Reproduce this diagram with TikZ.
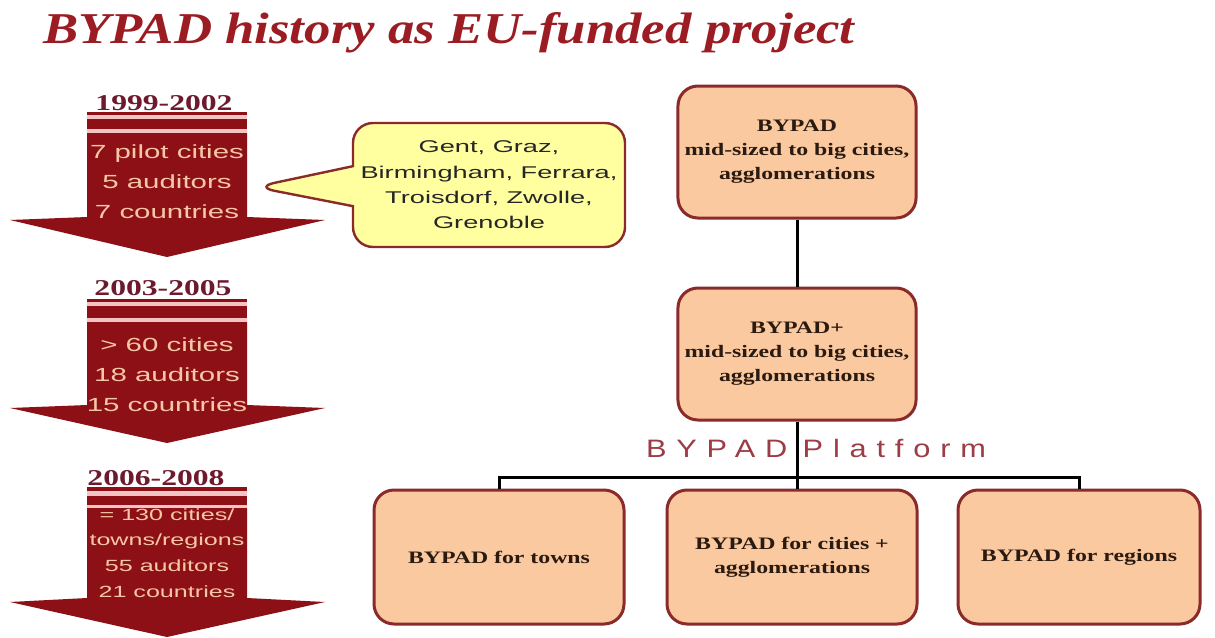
\documentclass[tikz,border=0pt]{standalone}
\usepackage{fontspec}
\setmainfont{Liberation Serif}
\newfontfamily\titlefont{Liberation Serif}[FakeStretch=1.2]
\newfontfamily\yearfont{Liberation Serif}[FakeStretch=1.4]
\newfontfamily\boxfont{Liberation Serif}[FakeStretch=1.36]
\newfontfamily\arrowfont{Liberation Sans}[FakeStretch=1.55]
\newfontfamily\calloutfont{Liberation Sans}[FakeStretch=1.6]
\newfontfamily\platformfont{Liberation Sans}[FakeStretch=1.22,LetterSpace=39]
\usetikzlibrary{shapes.callouts}

\begin{document}
\begin{tikzpicture}[x=0.5pt,y=-0.5pt,
    year/.style={anchor=base, text=year_col, font=\yearfont\bfseries\fontsize{11.3}{13}\selectfont},
    stats/.style={align=center, text=arrow_text, font=\arrowfont\fontsize{9.5}{15}\selectfont},
    box/.style={draw=box_line, line width=1.5pt, fill=box_fill, rounded corners=10pt,
        minimum width=118pt, minimum height=66pt, align=center, text=box_text,
        font=\boxfont\bfseries\fontsize{8.75}{12}\selectfont},
    smallbox/.style={box, minimum width=125pt, minimum height=67pt},
    link/.style={line width=1.5pt, black}]
    \definecolor{title_red}{HTML}{9B1C22}
    \definecolor{arrow_red}{HTML}{8C1016}
    \definecolor{arrow_pink}{HTML}{F2C4C4}
    \definecolor{arrow_text}{HTML}{F6C7A6}
    \definecolor{year_col}{HTML}{6E1A2E}
    \definecolor{box_fill}{HTML}{FBC9A0}
    \definecolor{box_line}{HTML}{8B2A2A}
    \definecolor{box_text}{HTML}{2B1A10}
    \definecolor{call_fill}{HTML}{FFFFA0}
    \definecolor{plat_col}{HTML}{9C3C46}
    %\draw[help lines] (0,0) grid (1215,637);
    \useasboundingbox (0,0) rectangle (1215,637);
    \path[fill=white] (0,0) rectangle (1215,637);

    \node[anchor=base west, text=title_red, font=\titlefont\bfseries\itshape\fontsize{22}{26}\selectfont]
        (title) at (36,43) {BYPAD history as EU-funded project};

    % time line arrows
    \path[fill=arrow_pink] (87,112) rectangle (247,133);
    \path[fill=arrow_red] (87,112) rectangle (247,115);
    \path[fill=arrow_red] (87,119) rectangle (247,129);
    \path[fill=arrow_red] (87,133) -- (247,133) -- (247,217) -- (325,220) -- (167,257)
        -- (10,220) -- (87,217) -- cycle;

    \path[fill=arrow_pink] (87,299) rectangle (247,322);
    \path[fill=arrow_red] (87,299) rectangle (247,302);
    \path[fill=arrow_red] (87,306) rectangle (247,318);
    \path[fill=arrow_red] (87,322) -- (247,322) -- (247,405) -- (325,408) -- (167,443)
        -- (10,408) -- (87,405) -- cycle;

    \path[fill=arrow_pink] (87,487) rectangle (247,508);
    \path[fill=arrow_red] (87,487) rectangle (247,491);
    \path[fill=arrow_red] (87,496) rectangle (247,505);
    \path[fill=arrow_red] (87,508) -- (247,508) -- (247,598) -- (325,602) -- (167,637)
        -- (10,602) -- (87,598) -- cycle;

    \node[year] (yr1) at (164,110) {1999-2002};
    \node[year] (yr2) at (163,295) {2003-2005};
    \node[year] (yr3) at (156,485) {2006-2008};

    \node[stats] (stats1) at (167,182) {7 pilot cities\\5 auditors\\7 countries};
    \node[stats] (stats2) at (167,375) {> 60 cities\\18 auditors\\15 countries};
    \node[stats, font=\arrowfont\fontsize{8.1}{12.8}\selectfont] (stats3) at (167,553)
        {= 130 cities/\\towns/regions\\55 auditors\\21 countries};

    \coordinate (pin) at (255,187);
    \node[rectangle callout, callout absolute pointer={(pin)}, callout pointer width=20pt,
        draw=box_line, line width=1.2pt, fill=call_fill, rounded corners=10pt,
        minimum width=136pt, minimum height=62pt, align=center, text=black!85,
        font=\calloutfont\fontsize{8.5}{12.7}\selectfont]
        (pilots) at (489,185) {Gent, Graz,\\Birmingham, Ferrara,\\Troisdorf, Zwolle,\\Grenoble};

    % project tree
    \node[box] (bypad) at (797,152) {BYPAD\\mid-sized to big cities,\\agglomerations};
    \node[box] (plus) at (797,354) {BYPAD+\\mid-sized to big cities,\\agglomerations};
    \node[smallbox] (towns) at (499,557) {BYPAD for towns};
    \node[smallbox] (cities) at (792,557) {BYPAD for cities +\\agglomerations};
    \node[smallbox, minimum width=121pt] (regions) at (1079,557) {BYPAD for regions};

    \node[anchor=base west, text=plat_col, font=\platformfont\fontsize{12.6}{15}\selectfont]
        (platform) at (639,457) {BYPAD \kern-1.5pt Platform};

    \coordinate (bus) at (797,477);
    \draw[link] (bypad.south) -- (plus.north);
    \draw[link] (plus.south) -- (bus) -- (cities.north -| bus);
    \draw[link] (towns.north) |- (bus) -| (regions.north);
\end{tikzpicture}
\end{document}
